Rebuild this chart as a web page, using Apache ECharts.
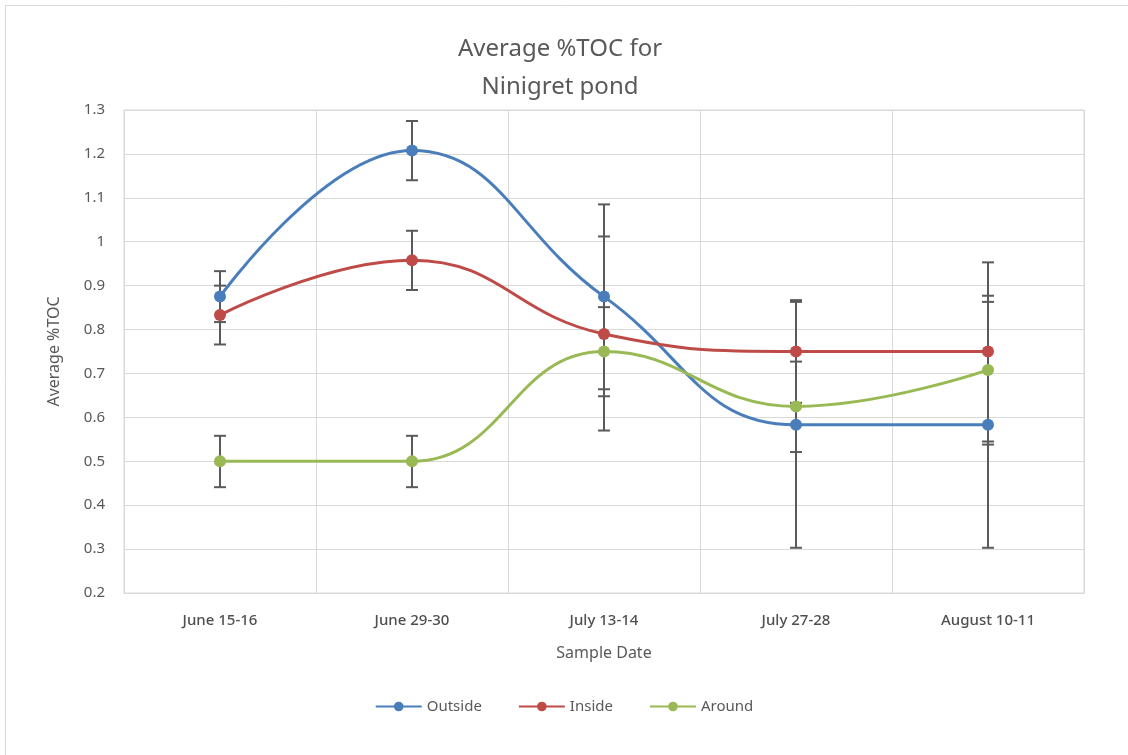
<!DOCTYPE html>
<html>
<head>
<meta charset="utf-8">
<script src="https://cdn.jsdelivr.net/npm/echarts@6/dist/echarts.min.js"></script>
<style>
html,body{margin:0;padding:0;background:#fff;}
#chart{width:1128px;height:755px;}
</style>
</head>
<body>
<div id="chart"></div>
<script>
const categories = ['June 15-16', 'June 29-30', 'July 13-14', 'July 27-28', 'August 10-11'];
const seriesNames = ['Outside', 'Inside', 'Around'];
const outside = [0.875, 1.208, 0.875, 0.583, 0.583];
const inside = [0.833, 0.958, 0.79, 0.75, 0.75];
const around = [0.5, 0.5, 0.75, 0.625, 0.708];
const outsideLow = [0.817, 1.14, 0.664, 0.303, 0.303];
const outsideHigh = [0.933, 1.275, 1.085, 0.863, 0.863];
const insideLow = [0.766, 0.89, 0.57, 0.633, 0.545];
const insideHigh = [0.9, 1.025, 1.012, 0.867, 0.953];
const aroundLow = [0.441, 0.441, 0.648, 0.521, 0.538];
const aroundHigh = [0.558, 0.558, 0.851, 0.727, 0.877];
const colors = ['#4a7ebb', '#be4b48', '#98b954'];

const textColor = '#595959';
const font = 'Noto Sans';

function errorSeries(low, high) {
  const data = categories.map((c, i) => [i, low[i], high[i]]);
  return {
    type: 'custom',
    silent: true,
    z: 1,
    data: data,
    encode: { x: 0, y: [1, 2] },
    renderItem: function (params, api) {
      const x = api.value(0);
      const lo = api.coord([x, api.value(1)]);
      const hi = api.coord([x, api.value(2)]);
      const hw = 6;
      const style = { stroke: '#5a5a5a', lineWidth: 2 };
      return {
        type: 'group',
        children: [
          { type: 'line', shape: { x1: lo[0], y1: lo[1], x2: hi[0], y2: hi[1] }, style: style },
          { type: 'line', shape: { x1: lo[0] - hw, y1: lo[1], x2: lo[0] + hw, y2: lo[1] }, style: style },
          { type: 'line', shape: { x1: hi[0] - hw, y1: hi[1], x2: hi[0] + hw, y2: hi[1] }, style: style }
        ]
      };
    }
  };
}

function lineSeries(name, data, color) {
  return {
    name: name,
    type: 'line',
    data: data,
    smooth: 0.45,
    z: 3,
    symbol: 'circle',
    symbolSize: 12,
    lineStyle: { width: 3, color: color },
    itemStyle: { color: color },
    emphasis: { disabled: true }
  };
}

const chart = echarts.init(document.getElementById('chart'));
chart.setOption({
  animation: false,
  backgroundColor: '#fff',
  color: colors,
  graphic: [{
    type: 'rect',
    shape: { x: 5.5, y: 5.5, width: 1140, height: 780 },
    style: { fill: 'none', stroke: '#d9d9d9', lineWidth: 1 },
    silent: true,
    z: -1
  }],
  title: {
    text: 'Average %TOC for\nNinigret pond',
    left: 555,
    textAlign: 'center',
    top: 25,
    textStyle: { fontFamily: font, fontSize: 24, fontWeight: 'normal', color: textColor, lineHeight: 38 }
  },
  legend: {
    bottom: 36,
    left: 'center',
    itemGap: 36,
    itemWidth: 46,
    itemHeight: 12,
    data: seriesNames,
    textStyle: { fontFamily: font, fontSize: 15, color: textColor }
  },
  grid: { left: 124, right: 44, top: 110, bottom: 162, show: true, borderColor: '#d9d9d9', borderWidth: 1 },
  xAxis: {
    type: 'category',
    data: categories,
    boundaryGap: true,
    name: 'Sample Date',
    nameLocation: 'middle',
    nameGap: 52,
    nameTextStyle: { fontFamily: font, fontSize: 16, color: textColor },
    axisLine: { lineStyle: { color: '#d9d9d9' } },
    axisTick: { show: false },
    axisLabel: { fontFamily: font, fontSize: 15, fontWeight: 500, color: '#4f4f4f', margin: 20 },
    splitLine: { show: true, lineStyle: { color: '#d9d9d9' } }
  },
  yAxis: {
    type: 'value',
    min: 0.2,
    max: 1.3,
    interval: 0.1,
    name: 'Average %TOC',
    nameLocation: 'middle',
    nameGap: 62,
    nameTextStyle: { fontFamily: font, fontSize: 16, color: textColor },
    axisLine: { show: false },
    axisTick: { show: false },
    axisLabel: {
      fontFamily: font, fontSize: 15, color: textColor, margin: 19,
      formatter: function (v) { return String(Math.round(v * 10) / 10); }
    },
    splitLine: { lineStyle: { color: '#d9d9d9' } }
  },
  series: [
    errorSeries(outsideLow, outsideHigh),
    errorSeries(insideLow, insideHigh),
    errorSeries(aroundLow, aroundHigh),
    lineSeries('Outside', outside, colors[0]),
    lineSeries('Inside', inside, colors[1]),
    lineSeries('Around', around, colors[2])
  ]
});
</script>
</body>
</html>
